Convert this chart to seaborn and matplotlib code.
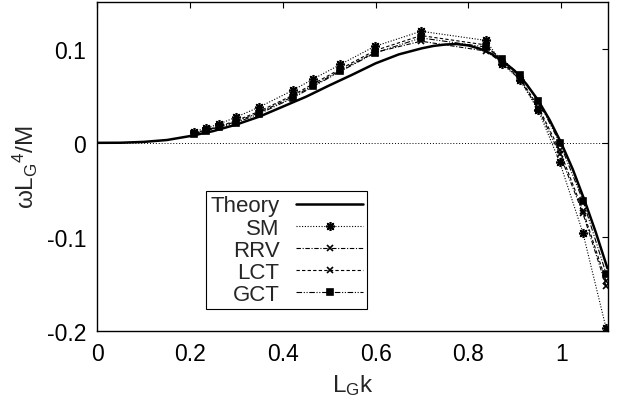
import matplotlib
matplotlib.use("Agg")
import matplotlib.pyplot as plt
import seaborn as sns
import pandas as pd

# ---- data ----
theory_k = [0, 0.05, 0.1, 0.15, 0.2, 0.25, 0.3, 0.35, 0.4, 0.45, 0.5, 0.55, 0.6,
            0.65, 0.7, 0.725, 0.75, 0.775, 0.8, 0.825, 0.85, 0.875, 0.9, 0.925,
            0.95, 0.975, 1.0, 1.025, 1.05, 1.075, 1.1]
theory_w = [0, 0.0001, 0.001, 0.003, 0.0072, 0.0125, 0.0195, 0.028, 0.0385, 0.049,
            0.061, 0.0725, 0.0845, 0.094, 0.1005, 0.103, 0.1045, 0.105, 0.1035,
            0.1, 0.0945, 0.0865, 0.0765, 0.0625, 0.0455, 0.0245, 0.0, -0.028,
            -0.0605, -0.0955, -0.1335]

k_pts = [0.209, 0.234, 0.262, 0.299, 0.349, 0.421, 0.466, 0.524, 0.598, 0.698,
         0.838, 0.873, 0.911, 0.951, 0.997, 1.047, 1.097]
sm_w = [0.0120, 0.0156, 0.0199, 0.0273, 0.0380, 0.0557, 0.0680, 0.0833, 0.1025,
        0.1186, 0.1088, 0.0840, 0.0670, 0.0344, -0.0206, -0.0957, -0.1970]
rrv_w = [0.0102, 0.0132, 0.0170, 0.0225, 0.0320, 0.0490, 0.0610, 0.0770, 0.0960,
         0.1080, 0.0975, 0.0850, 0.0675, 0.0360, -0.0120, -0.0750, -0.1520]
lct_w = [0.0106, 0.0137, 0.0176, 0.0235, 0.0335, 0.0505, 0.0628, 0.0785, 0.0980,
         0.1140, 0.1040, 0.0860, 0.0690, 0.0380, -0.0080, -0.0720, -0.1470]
gct_w = [0.0098, 0.0128, 0.0165, 0.0213, 0.0309, 0.0475, 0.0600, 0.0759, 0.0954,
         0.1115, 0.1018, 0.0894, 0.0716, 0.0443, 0.0000, -0.0613, -0.1390]

series_names = ["Theory", "SM", "RRV", "LCT", "GCT"]
x_ticks = [0, 0.2, 0.4, 0.6, 0.8, 1.0]
x_tick_labels = ["0", "0.2", "0.4", "0.6", "0.8", "1"]
y_ticks = [-0.2, -0.1, 0, 0.1]
y_tick_labels = ["-0.2", "-0.1", "0", "0.1"]

# ---- style ----
sns.set_style("white")
plt.rcParams["font.family"] = ["Liberation Sans", "DejaVu Sans"]
plt.rcParams["mathtext.default"] = "regular"
FS = 16.5
LFS = 17.5

fig = plt.figure(figsize=(6.18, 4.10), dpi=100)
ax = fig.add_axes([97.4 / 618, (410 - 332) / 410, (607.5 - 97.4) / 618, (332 - 2.7) / 410])

ax.axhline(0, color="black", lw=0.7, ls=(0, (1, 2)), zorder=1)

df_t = pd.DataFrame({"k": theory_k, "w": theory_w})
sns.lineplot(data=df_t, x="k", y="w", ax=ax, color="black", lw=1.8,
             label=series_names[0], sort=False, zorder=5)

styles = [
    (sm_w, (0, (1, 1.5)), (8, 2, 0), 6.5),
    (rrv_w, (0, (4, 1.5, 1, 1.5)), "x", 5.0),
    (lct_w, (0, (3, 2)), "x", 5.0),
    (gct_w, (0, (5, 1.5, 1, 1.5, 1, 1.5)), "s", 4.5),
]
for name, (vals, ls, mk, ms) in zip(series_names[1:], styles):
    d = pd.DataFrame({"k": k_pts, "w": vals})
    sns.lineplot(data=d, x="k", y="w", ax=ax, color="black", lw=0.8,
                 linestyle=ls, marker=mk, markersize=ms, mew=1.2,
                 mfc="black", mec="black", label=name, sort=False, zorder=4)

ax.set_xlim(0, 1.1)
ax.set_ylim(-0.2, 0.15)
ax.set_xticks(x_ticks)
ax.set_xticklabels(x_tick_labels)
ax.set_yticks(y_ticks)
ax.set_yticklabels(y_tick_labels)
ax.tick_params(direction="in", length=4, width=0.8, top=True, right=True,
               labelsize=FS, colors="black")
ax.tick_params(axis="x", pad=8)
ax.tick_params(axis="y", pad=8)
for s in ax.spines.values():
    s.set_visible(True)
    s.set_color("black")
    s.set_linewidth(1.0)

ax.set_xlabel(r"L$_{G}$k", fontsize=LFS, labelpad=5)
ax.set_ylabel(r"$\omega$L$_{G}$$^{4}$/M", fontsize=LFS, labelpad=5)

leg = ax.legend(loc="upper left", bbox_to_anchor=(0.213, 0.425), markerfirst=False,
                frameon=True, fancybox=False, shadow=False, fontsize=16,
                handlelength=3.0, handletextpad=0.75, labelspacing=0.05,
                borderpad=0.2, borderaxespad=0)
leg.get_frame().set_edgecolor("black")
leg.get_frame().set_linewidth(0.8)
leg.get_frame().set_alpha(1)

fig.savefig("out.png", dpi=100)
